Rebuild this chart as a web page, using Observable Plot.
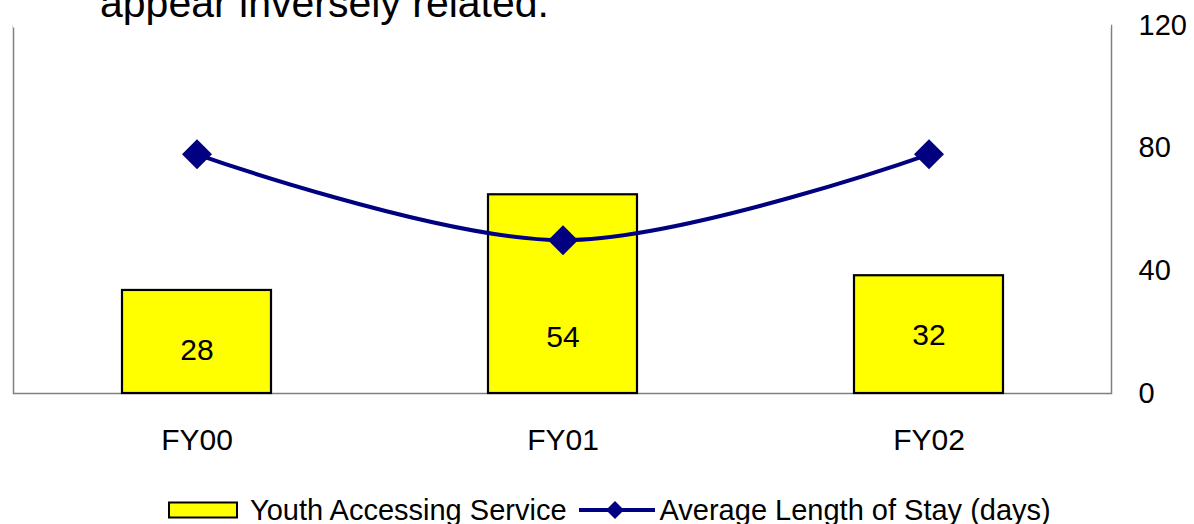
<!DOCTYPE html>
<html>
<head>
<meta charset="utf-8">
<script src="https://cdn.jsdelivr.net/npm/d3@7"></script>
<script src="https://cdn.jsdelivr.net/npm/@observablehq/plot@0.6"></script>
<style>
  html, body { margin: 0; padding: 0; background: #fff; }
  body { width: 1194px; height: 524px; position: relative; overflow: hidden; font-family: "Liberation Sans", Arial, sans-serif; }
  #title { position: absolute; left: 100px; top: -17px; font-size: 41px; line-height: 41px; color: #000; white-space: nowrap; }
  #chart { position: absolute; left: 0; top: 0; }
  #legend { position: absolute; left: 168px; top: 494px; height: 32px; display: flex; align-items: center; font-size: 29px; color: #000; white-space: nowrap; }
  #legend svg { display: block; }
</style>
</head>
<body>
<div id="chart"></div>
<div id="title">appear inversely related.</div>
<div id="legend"></div>
<script>
// Data
const years = ["FY00", "FY01", "FY02"];
const youthAccessing = [28, 54, 32];          // bars, hidden left axis 0–100
const avgLengthOfStay = [78, 50, 78];         // line, right axis 0–120
const rightTicks = [0, 40, 80, 120];
const seriesNames = ["Youth Accessing Service", "Average Length of Stay (days)"];

const leftMax = 100, rightMax = 120;
const k = rightMax / leftMax; // map bar values onto the shared y range

const data = years.map((y, i) => ({year: y, youth: youthAccessing[i], stay: avgLengthOfStay[i]}));

const navy = "#000080";
const labelLift = [14, 18.3, 18.9]; // label placement inside bars (right-axis units)

const chart = Plot.plot({
  width: 1194,
  height: 470,
  marginTop: 25,
  marginBottom: 77,
  marginLeft: 13,
  marginRight: 83,
  style: {fontFamily: "Liberation Sans, Arial, sans-serif", fontSize: "29px", background: "white", color: "black"},
  x: {type: "band", domain: years, paddingInner: 0.593, paddingOuter: 0.2965, label: null},
  y: {domain: [0, rightMax], label: null},
  marks: [
    Plot.frame({stroke: "#808080", strokeWidth: 1.5}),
    Plot.ruleY([rightMax], {stroke: "white", strokeWidth: 4}),
    Plot.barY(data, {x: "year", y: d => d.youth * k, fill: "#ffff00", stroke: "black", strokeWidth: 2.2}),
    Plot.text(data, {x: "year", y: (d, i) => labelLift[i], text: d => String(d.youth), fontSize: 30, fill: "black"}),
    Plot.line(data, {x: "year", y: "stay", curve: "catmull-rom", stroke: navy, strokeWidth: 4}),
    Plot.dot(data, {x: "year", y: "stay", symbol: "diamond2", r: 13.5, fill: navy, stroke: "none"}),
    Plot.axisX({tickSize: 0, tickPadding: 35, fontSize: 30, label: null}),
    Plot.axisY({anchor: "right", ticks: rightTicks, tickSize: 0, tickPadding: 27, fontSize: 29, label: null, textAnchor: "start"})
  ]
});
document.getElementById("chart").appendChild(chart);

// Legend
const legend = d3.select("#legend");
const sw1 = legend.append("svg").attr("width", 70).attr("height", 18);
sw1.append("rect").attr("x", 1).attr("y", 1.5).attr("width", 68).attr("height", 15)
  .attr("fill", "#ffff00").attr("stroke", "black").attr("stroke-width", 2);
legend.append("span").style("margin-left", "12px").text(seriesNames[0]);
const sw2 = legend.append("svg").attr("width", 76).attr("height", 24).style("margin-left", "12px");
sw2.append("line").attr("x1", 0).attr("x2", 76).attr("y1", 12).attr("y2", 12).attr("stroke", navy).attr("stroke-width", 4);
sw2.append("path").attr("d", "M36,3 L45,12 L36,21 L27,12 Z").attr("fill", navy);
legend.append("span").style("margin-left", "5px").text(seriesNames[1]);
</script>
</body>
</html>
